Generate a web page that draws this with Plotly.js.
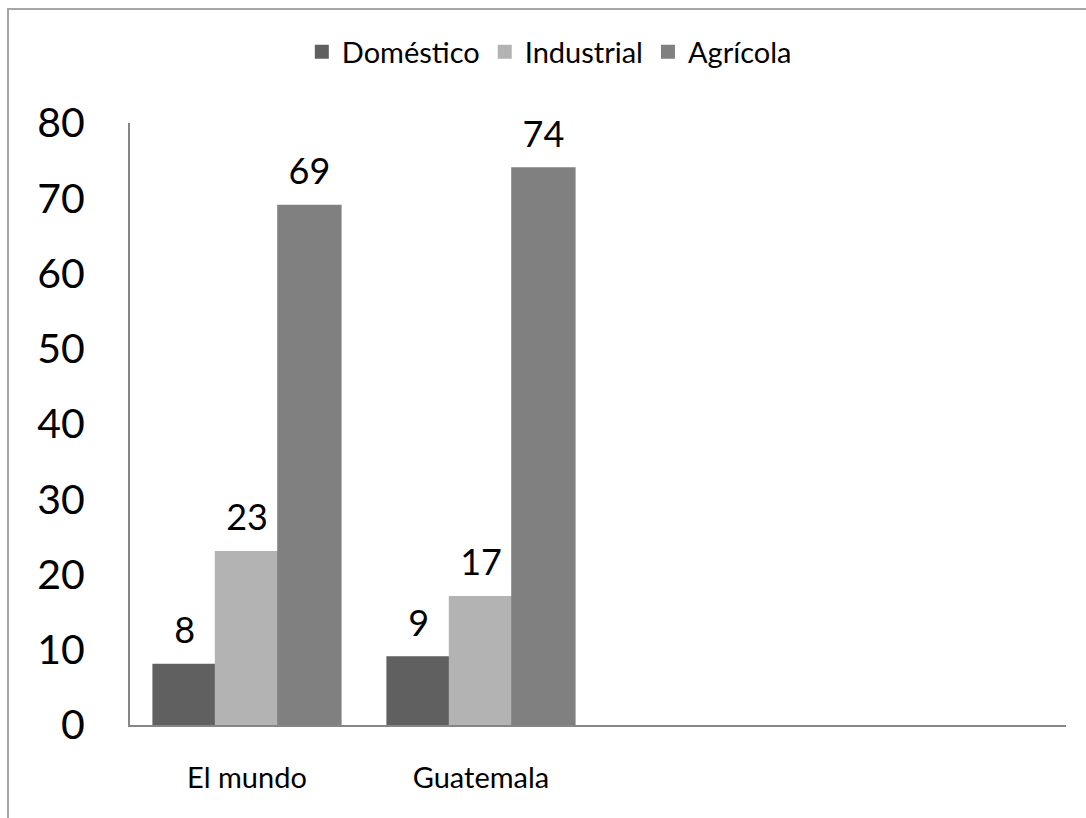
<!DOCTYPE html>
<html><head><meta charset="utf-8">
<script src="https://cdn.plot.ly/plotly-3.0.1.min.js"></script>
<style>
html,body{margin:0;padding:0;background:#fff;}
#wrap{position:relative;width:1086px;height:818px;overflow:hidden;}
#chart{width:1086px;height:818px;}
#frame{position:absolute;left:7px;top:8px;width:1100px;height:900px;border-left:2px solid #a6a6a6;border-top:2px solid #a6a6a6;pointer-events:none;}
</style></head>
<body><div id="wrap"><div id="chart"></div><div id="frame"></div></div>
<script>
const categories = ['El mundo', 'Guatemala'];
const seriesNames = ['Doméstico', 'Industrial', 'Agrícola'];
const domestico = [8, 9];
const industrial = [23, 17];
const agricola = [69, 74];
const yTicks = [0, 10, 20, 30, 40, 50, 60, 70, 80];
const colors = ['#606060', '#b3b3b3', '#808080'];
const FONT = 'Lato, "Open Sans", sans-serif';

const xpos = categories.map((c, i) => i);
const values = [domestico, industrial, agricola];
const traces = values.map((v, k) => ({
  type: 'bar', name: seriesNames[k], x: xpos, y: v,
  marker: {color: colors[k], line: {color: colors[k], width: 2}},
  text: v.map(n => '<span style="font-size:36px">' + n + '</span><br>&nbsp;'),
  textposition: 'outside', cliponaxis: false,
  textfont: {family: FONT, size: 12, color: '#000'},
  hoverinfo: 'none'
}));

const layout = {
  width: 1086, height: 818,
  margin: {l: 130, r: 20, t: 123, b: 93},
  paper_bgcolor: '#fff', plot_bgcolor: '#fff',
  font: {family: FONT, color: '#000'},
  barmode: 'group', bargap: 0.2, bargroupgap: 0,
  showlegend: true,
  legend: {orientation: 'h', x: 0.448, xanchor: 'center', y: 1.118, yanchor: 'middle',
           font: {family: FONT, size: 29, color: '#000'}, itemwidth: 30, traceorder: 'normal'},
  xaxis: {range: [-0.5, 3.5], tickvals: xpos, ticktext: categories,
          showgrid: false, zeroline: false, showline: true, linecolor: '#868686', linewidth: 2,
          ticks: 'outside', ticklen: 26, tickcolor: 'rgba(0,0,0,0)',
          tickfont: {family: FONT, size: 29, color: '#000'}, fixedrange: true},
  yaxis: {range: [0, 80], tickvals: yTicks, ticktext: yTicks.map(String),
          showgrid: false, zeroline: false, showline: true, linecolor: '#868686', linewidth: 2,
          ticks: 'outside', ticklen: 35, tickcolor: 'rgba(0,0,0,0)',
          tickfont: {family: FONT, size: 41, color: '#000'}, fixedrange: true}
};
Plotly.newPlot('chart', traces, layout, {displayModeBar: false, staticPlot: true});
</script></body></html>
